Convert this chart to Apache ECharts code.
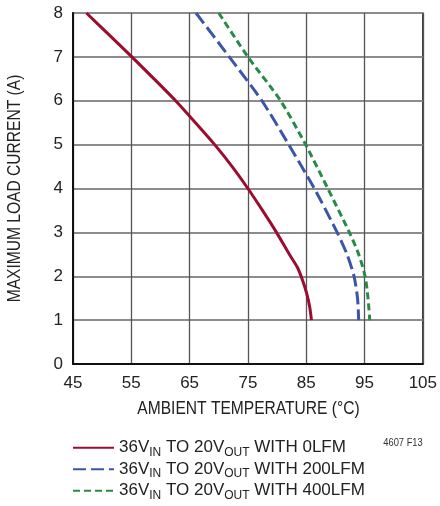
<!DOCTYPE html>
<html><head><meta charset="utf-8">
<script src="https://cdn.jsdelivr.net/npm/echarts@6/dist/echarts.min.js"></script>
<style>html,body{margin:0;padding:0;background:#fff}#c{width:440px;height:506px}</style>
</head><body><div id="c"></div>
<script>
const xTicks = [45, 55, 65, 75, 85, 95, 105];
const yTicks = [0, 1, 2, 3, 4, 5, 6, 7, 8];
const xAxisTitle = 'AMBIENT TEMPERATURE (°C)';
const yAxisTitle = 'MAXIMUM LOAD CURRENT (A)';
const seriesNames = ['36V{s|IN} TO 20V{s|OUT} WITH 0LFM', '36V{s|IN} TO 20V{s|OUT} WITH 200LFM', '36V{s|IN} TO 20V{s|OUT} WITH 400LFM'];
const red0lfm = [[47.3,8],[51.2,7.5],[55.1,7],[58.9,6.5],[62.6,6],[66.0,5.5],[69.3,5],[72.3,4.5],[75.0,4],[77.5,3.5],[79.9,3],[82.1,2.5],[83.5,2.2],[84.4,1.9],[85.1,1.6],[85.6,1.3],[85.9,1]];
const blue200lfm = [[66.1,8],[71.8,7],[77.4,6],[82.0,5],[86.4,4],[90.3,3],[92.0,2.5],[93.2,2],[93.8,1.5],[94.0,1]];
const green400lfm = [[70.0,8],[75.0,7],[80.6,6],[84.9,5],[88.7,4],[92.4,3],[94.0,2.5],[95.1,2],[95.6,1.5],[95.9,1]];

const FONT = '"Liberation Sans", Arial, sans-serif';
const chart = echarts.init(document.getElementById('c'), null, {renderer:'canvas'});
const colors = ['#9a0c30', '#3b56a8', '#268a48'];
const dashes = ['solid', [13,5], [7,4]];
const datas = [red0lfm, blue200lfm, green400lfm];
chart.setOption({
  animation:false,
  grid:{left:73, top:13, width:351, height:351, show:true, borderColor:'#333', borderWidth:1.5},
  xAxis:{type:'value', min:xTicks[0], max:xTicks[xTicks.length-1], interval:10,
    axisLine:{lineStyle:{color:'#111', width:2}}, axisTick:{show:false},
    axisLabel:{fontFamily:FONT, fontSize:17, color:'#222', margin:11},
    splitLine:{lineStyle:{color:'#555', width:1.3}}},
  yAxis:{type:'value', min:yTicks[0], max:yTicks[yTicks.length-1], interval:1,
    axisLine:{lineStyle:{color:'#111', width:2}}, axisTick:{show:false},
    axisLabel:{fontFamily:FONT, fontSize:17, color:'#222', margin:10},
    splitLine:{lineStyle:{color:'#8c8c8c', width:2}}},
  legend:{orient:'vertical', left:72, top:437, height:100, padding:0, itemWidth:41, itemHeight:14, itemGap:0,
    itemStyle:{opacity:0},
    textStyle:{fontFamily:FONT, fontSize:17, color:'#222', lineHeight:21.5,
      rich:{s:{fontFamily:FONT, fontSize:12, color:'#222', lineHeight:12, verticalAlign:'bottom'}}},
    data:seriesNames},
  graphic:[
    {type:'text', x:248.5, y:409, scaleX:0.82, style:{text:xAxisTitle, fontFamily:FONT, fontSize:19, fill:'#222', align:'center', verticalAlign:'middle'}},
    {type:'text', x:15, y:188.5, rotation:Math.PI/2, scaleX:0.82, style:{text:yAxisTitle, fontFamily:FONT, fontSize:19, fill:'#222', align:'center', verticalAlign:'middle'}},
    {type:'text', x:403, y:442.5, scaleX:0.85, style:{text:'4607 F13', fontFamily:FONT, fontSize:11, fill:'#333', align:'center', verticalAlign:'middle'}}
  ],
  series:datas.map((d,i)=>({name:seriesNames[i], type:'line', data:d, smooth:0.25, symbol:'none',
    lineStyle:{color:colors[i], width:3, type:dashes[i]}, itemStyle:{color:colors[i]}}))
});
</script></body></html>
